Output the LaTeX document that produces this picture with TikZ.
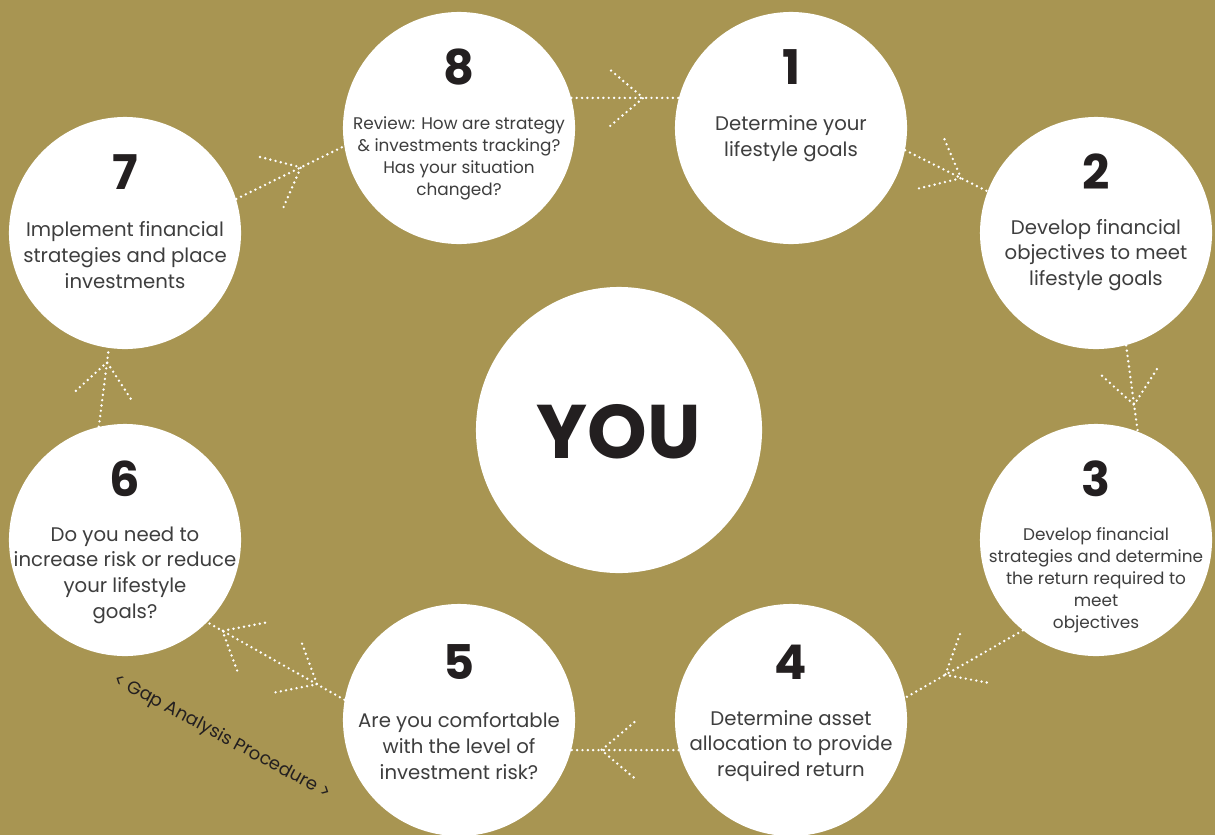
\documentclass[tikz,border=0pt]{standalone}
\usepackage{fontspec}
\setmainfont{Poppins}
\usetikzlibrary{decorations.markings}
\definecolor{olive}{RGB}{168,149,82}
\definecolor{inkgray}{RGB}{62,62,62}
\definecolor{inkdark}{RGB}{35,31,32}
\tikzset{
  goal/.style={circle, fill=white, inner sep=0pt, minimum size=5.8cm},
  num/.style={text=inkdark, font=\fontsize{34}{34}\selectfont\bfseries},
  txt/.style={text=inkgray, align=center, font=\fontsize{14}{18.3}\selectfont},
  smalltxt/.style={text=inkgray, align=center, font=\fontsize{12}{15.6}\selectfont},
  flow/.style={white, line width=1.9pt, line cap=round, dash pattern=on 0pt off 3.8pt},
  chev/.style={postaction={decorate, decoration={markings,
    mark=at position #1 with {\draw[flow] (-33,28) -- (0,0) -- (-33,-28);}}}},
  chevback/.style={postaction={decorate, decoration={markings,
    mark=at position #1 with {\draw[flow] (33,28) -- (0,0) -- (33,-28);}}}}
}
\begin{document}
\begin{tikzpicture}[x=0.025cm, y=-0.025cm]
	\fill [olive] (0,0) rectangle (1215,835);
	\useasboundingbox (0,0) rectangle (1215,835);
	\clip (0,0) rectangle (1215,835);
	% circles
	\node [goal] (c1) at (791,128) {};
	\node [goal] (c2) at (1096,233) {};
	\node [goal] (c3) at (1096,540) {};
	\node [goal] (c4) at (791,720) {};
	\node [goal] (c5) at (459,720) {};
	\node [goal] (c6) at (125,540) {};
	\node [goal] (c7) at (125,233) {};
	\node [goal] (c8) at (459,128) {};
	\node [goal, minimum size=7.15cm] (you) at (619,430) {};
	\node [text=inkdark, font=\fontsize{54}{54}\selectfont\bfseries] (youtxt) at (619,432) {YOU};
	% numbers
	\node [num] (n1) at (791,67) {1};
	\node [num] (n2) at (1096,172) {2};
	\node [num] (n3) at (1096,479) {3};
	\node [num] (n4) at (791,662) {4};
	\node [num] (n5) at (459,662) {5};
	\node [num] (n6) at (125,479) {6};
	\node [num] (n7) at (125,172) {7};
	\node [num] (n8) at (459,67) {8};
	% texts
	\node [txt] (t1) at (791,139) {Determine your\\lifestyle goals};
	\node [txt] (t2) at (1096,255) {Develop financial\\objectives to meet\\lifestyle goals};
	\node [smalltxt] (t3) at (1096,580) {Develop financial\\strategies and determine\\the return required to\\meet\\objectives};
	\node [txt] (t4) at (791,746) {Determine asset\\allocation to provide\\required return};
	\node [txt] (t5) at (459,746) {Are you comfortable\\with the level of\\investment risk?};
	\node [txt] (t6) at (125,575) {Do you need to\\increase risk or reduce\\your lifestyle\\goals?};
	\node [txt] (t7) at (125,255) {Implement financial\\strategies and place\\investments};
	\node [smalltxt] (t8) at (459,158) {Review: How are strategy\\\& investments tracking?\\Has your situation\\changed?};
	% connectors
	\draw [flow, chev=0.67] (c8.15) -- (c1.165);
	\draw [flow, chev=0.68] (c1.-11) -- (c2.159);
	\draw [flow, chev=0.69] (c2.-75) -- (c3.69);
	\draw [flow, chev=0.66] (c3.-129) -- (c4.11);
	\draw [flow, chev=0.72] (c4.-165) -- (c5.-15);
	\draw [flow, chevback=0.2, chev=0.89] (c5.170) -- (c6.-45);
	\draw [flow, chev=0.82] (c6.103) -- (c7.-98);
	\draw [flow, chev=0.6] (c7.17) -- (c8.189);
	\node [text=inkdark, rotate=-28.4, font=\fontsize{12.8}{14}\selectfont] (gap) at (222,737) {< Gap Analysis Procedure >};
\end{tikzpicture}
\end{document}
